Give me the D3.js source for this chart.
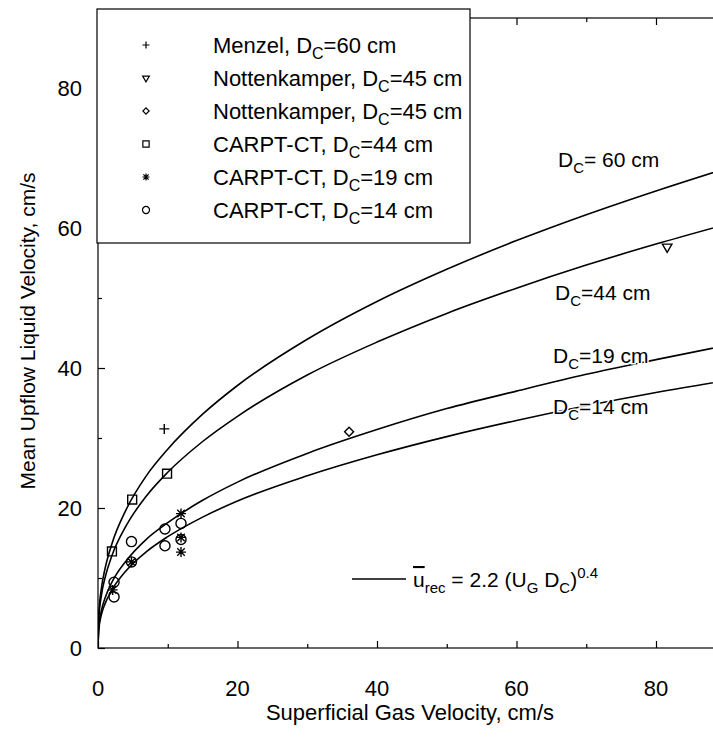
<!DOCTYPE html>
<html>
<head>
<meta charset="utf-8">
<script src="https://cdn.jsdelivr.net/npm/d3@7"></script>
<style>
	body { margin: 0; background: #fff; }
	text { font-family: "Liberation Sans", Arial, sans-serif; fill: #000; }
</style>
</head>
<body>
<div id="chart"></div>
<script>
var ugGrid = [0, 0.1, 0.5, 1, 2, 4, 7, 10, 15, 20, 30, 40, 50, 60, 70, 80, 90];
var curve60 = [0, 4.5, 8.6, 11.3, 14.9, 19.7, 24.7, 28.4, 33.4, 37.5, 44.1, 49.5, 54.1, 58.2, 61.9, 65.3, 68.5];
var curve44 = [0, 4.0, 7.6, 10.0, 13.2, 17.4, 21.8, 25.1, 29.5, 33.1, 39.0, 43.7, 47.8, 51.4, 54.7, 57.7, 60.5];
var curve19 = [0, 2.8, 5.4, 7.1, 9.4, 12.4, 15.6, 17.9, 21.1, 23.7, 27.8, 31.2, 34.2, 36.7, 39.1, 41.2, 43.2];
var curve14 = [0, 2.5, 4.8, 6.3, 8.3, 11.0, 13.8, 15.9, 18.7, 21.0, 24.6, 27.6, 30.2, 32.5, 34.6, 36.5, 38.2];

// measured points
var menzelX = [9.5], menzelY = [31.3];
var nottTriX = [81.6], nottTriY = [57.3];
var nottDiaX = [36.0], nottDiaY = [30.9];
var carpt44X = [2.0, 4.9, 9.9], carpt44Y = [13.8, 21.2, 24.9];
var carpt19X = [2.1, 4.8, 11.9, 11.9, 11.9], carpt19Y = [8.3, 12.3, 19.2, 15.8, 13.7];
var carpt14X = [2.3, 2.3, 4.8, 4.8, 9.6, 9.6, 11.9, 11.9], carpt14Y = [9.4, 7.3, 15.2, 12.3, 17.0, 14.6, 17.8, 15.5];

var legendLabels = [
	['Menzel, D', 'C', '=60 cm'],
	['Nottenkamper, D', 'C', '=45 cm'],
	['Nottenkamper, D', 'C', '=45 cm'],
	['CARPT-CT, D', 'C', '=44 cm'],
	['CARPT-CT, D', 'C', '=19 cm'],
	['CARPT-CT, D', 'C', '=14 cm']
];
var xTicks = [0, 20, 40, 60, 80];
var yTicks = [0, 20, 40, 60, 80];
var minorTicks = [10, 30, 50, 70];

var W = 713, H = 742;
var svg = d3.select('#chart')
	.append('svg')
		.attr('width', W)
		.attr('height', H);

var x = d3.scaleLinear().domain([0, 90]).range([98, 98 + 90 * 6.975]);
var y = d3.scaleLinear().domain([0, 90]).range([648, 18]);

svg.append('clipPath').attr('id', 'plotclip')
	.append('rect')
		.attr('x', x(0)).attr('y', y(90))
		.attr('width', x(90) - x(0)).attr('height', y(0) - y(90));

// frame
svg.append('rect')
	.attr('x', x(0)).attr('y', y(90))
	.attr('width', x(90) - x(0)).attr('height', y(0) - y(90))
	.attr('fill', 'none').attr('stroke', '#000').attr('stroke-width', 1.2);

// inward ticks on all sides
var axB = d3.axisBottom(x).tickValues(xTicks).tickSize(-7).tickFormat('');
var axBm = d3.axisBottom(x).tickValues(minorTicks).tickSize(-4).tickFormat('');
var axT = d3.axisTop(x).tickValues(xTicks).tickSize(-7).tickFormat('');
var axTm = d3.axisTop(x).tickValues(minorTicks).tickSize(-4).tickFormat('');
var axL = d3.axisLeft(y).tickValues(yTicks).tickSize(-7).tickFormat('');
var axLm = d3.axisLeft(y).tickValues(minorTicks).tickSize(-4).tickFormat('');
[[axB, 'translate(0,' + y(0) + ')'], [axBm, 'translate(0,' + y(0) + ')'],
 [axT, 'translate(0,' + y(90) + ')'], [axTm, 'translate(0,' + y(90) + ')'],
 [axL, 'translate(' + x(0) + ',0)'], [axLm, 'translate(' + x(0) + ',0)']].forEach(function(a){
	var g = svg.append('g').attr('transform', a[1]).call(a[0]);
	g.select('.domain').remove();
	g.selectAll('line').attr('stroke', '#000').attr('stroke-width', 1.2);
});

// tick labels
svg.selectAll('.xlab').data(xTicks).enter().append('text')
	.attr('x', function(d){ return x(d); })
	.attr('y', 696)
	.attr('text-anchor', 'middle')
	.style('font-size', '22px')
	.text(function(d){ return d; });
svg.selectAll('.ylab').data(yTicks).enter().append('text')
	.attr('x', 82)
	.attr('y', function(d){ return y(d) + 8; })
	.attr('text-anchor', 'end')
	.style('font-size', '22px')
	.text(function(d){ return d; });

svg.append('text')
	.attr('x', 410).attr('y', 720)
	.attr('text-anchor', 'middle')
	.style('font-size', '22px')
	.text('Superficial Gas Velocity, cm/s');
svg.append('text')
	.attr('transform', 'translate(35,331) rotate(-90)')
	.attr('text-anchor', 'middle')
	.style('font-size', '21px')
	.text('Mean Upflow Liquid Velocity, cm/s');

// model curves
var plot = svg.append('g').attr('clip-path', 'url(#plotclip)');
var line = d3.line()
	.x(function(d){ return x(d[0]); })
	.y(function(d){ return y(d[1]); })
	.curve(d3.curveMonotoneX);
[curve60, curve44, curve19, curve14].forEach(function(c){
	plot.append('path')
		.datum(ugGrid.map(function(u, i){ return [u, c[i]]; }))
		.attr('d', line)
		.attr('fill', 'none')
		.attr('stroke', '#000')
		.attr('stroke-width', 1.6);
});

// markers
var crossPath = function(s){ return 'M' + (-s) + ',0H' + s + 'M0,' + (-s) + 'V' + s; };
// eight-armed asterisk
var starPath = function(s){
	var d = s * 0.75;
	return 'M' + (-d) + ',' + (-d) + 'L' + d + ',' + d +
		'M' + d + ',' + (-d) + 'L' + (-d) + ',' + d +
		'M0,' + (-s) + 'V' + s +
		'M' + (-s) + ',0H' + s;
};
var markers = [
	{ xs: menzelX, ys: menzelY, path: function(k){ return crossPath(5 * k); } },
	{ xs: nottTriX, ys: nottTriY, path: function(k){ return d3.symbol(d3.symbolTriangle, 40 * k * k)(); }, rot: 180 },
	{ xs: nottDiaX, ys: nottDiaY, path: function(k){ return d3.symbol(d3.symbolSquare, 40 * k * k)(); }, rot: 45 },
	{ xs: carpt44X, ys: carpt44Y, path: function(k){ return d3.symbol(d3.symbolSquare, 80 * k * k)(); } },
	{ xs: carpt19X, ys: carpt19Y, path: function(k){ return starPath(5 * k); } },
	{ xs: carpt14X, ys: carpt14Y, path: function(k){ return d3.symbol(d3.symbolCircle, 80 * k * k)(); } }
];
markers.forEach(function(m){
	m.xs.forEach(function(xv, i){
		plot.append('path')
			.attr('d', m.path(1))
			.attr('transform', 'translate(' + x(xv) + ',' + y(m.ys[i]) + ') rotate(' + (m.rot || 0) + ')')
			.attr('fill', 'none')
			.attr('stroke', '#000')
			.attr('stroke-width', 1.4);
	});
});

// curve labels
var curveLabelPos = [[558, 167, '= 60 cm'], [555, 300, '=44 cm'], [553, 363, '=19 cm'], [553, 414, '=14 cm']];
curveLabelPos.forEach(function(p){
	var t = svg.append('text')
		.attr('x', p[0]).attr('y', p[1])
		.style('font-size', '21px')
		.style('paint-order', 'stroke')
		.attr('stroke', '#fff').attr('stroke-width', 3);
	t.append('tspan').text('D');
	t.append('tspan').attr('dy', 6).style('font-size', '15px').text('C');
	t.append('tspan').attr('dy', -6).text(p[2]);
});

// legend box
var lg = svg.append('g');
lg.append('rect')
	.attr('x', 97).attr('y', 9)
	.attr('width', 373).attr('height', 234)
	.attr('fill', '#fff').attr('stroke', '#000').attr('stroke-width', 1.2);
legendLabels.forEach(function(lab, i){
	var cy = 45 + i * 33;
	lg.append('path')
		.attr('d', markers[i].path(0.7))
		.attr('transform', 'translate(146,' + cy + ') rotate(' + (markers[i].rot || 0) + ')')
		.attr('fill', 'none').attr('stroke', '#000').attr('stroke-width', 1.2);
	var t = lg.append('text')
		.attr('x', 213).attr('y', cy + 8)
		.style('font-size', '22px');
	t.append('tspan').text(lab[0]);
	t.append('tspan').attr('dy', 6).style('font-size', '16px').text(lab[1]);
	t.append('tspan').attr('dy', -6).text(lab[2]);
});

// formula key
svg.append('line')
	.attr('x1', 352).attr('x2', 406)
	.attr('y1', 579).attr('y2', 579)
	.attr('stroke', '#000').attr('stroke-width', 1.6);
var f = svg.append('text').attr('x', 413).attr('y', 587).style('font-size', '21px');
f.append('tspan').style('text-decoration', 'overline').text('u');
f.append('tspan').attr('dy', 6).style('font-size', '15px').text('rec');
f.append('tspan').attr('dy', -6).text(' = 2.2 (U');
f.append('tspan').attr('dy', 6).style('font-size', '15px').text('G');
f.append('tspan').attr('dy', -6).text(' D');
f.append('tspan').attr('dy', 6).style('font-size', '15px').text('C');
f.append('tspan').attr('dy', -6).text(')');
f.append('tspan').attr('dy', -9).style('font-size', '15px').text('0.4');
</script>
</body>
</html>
